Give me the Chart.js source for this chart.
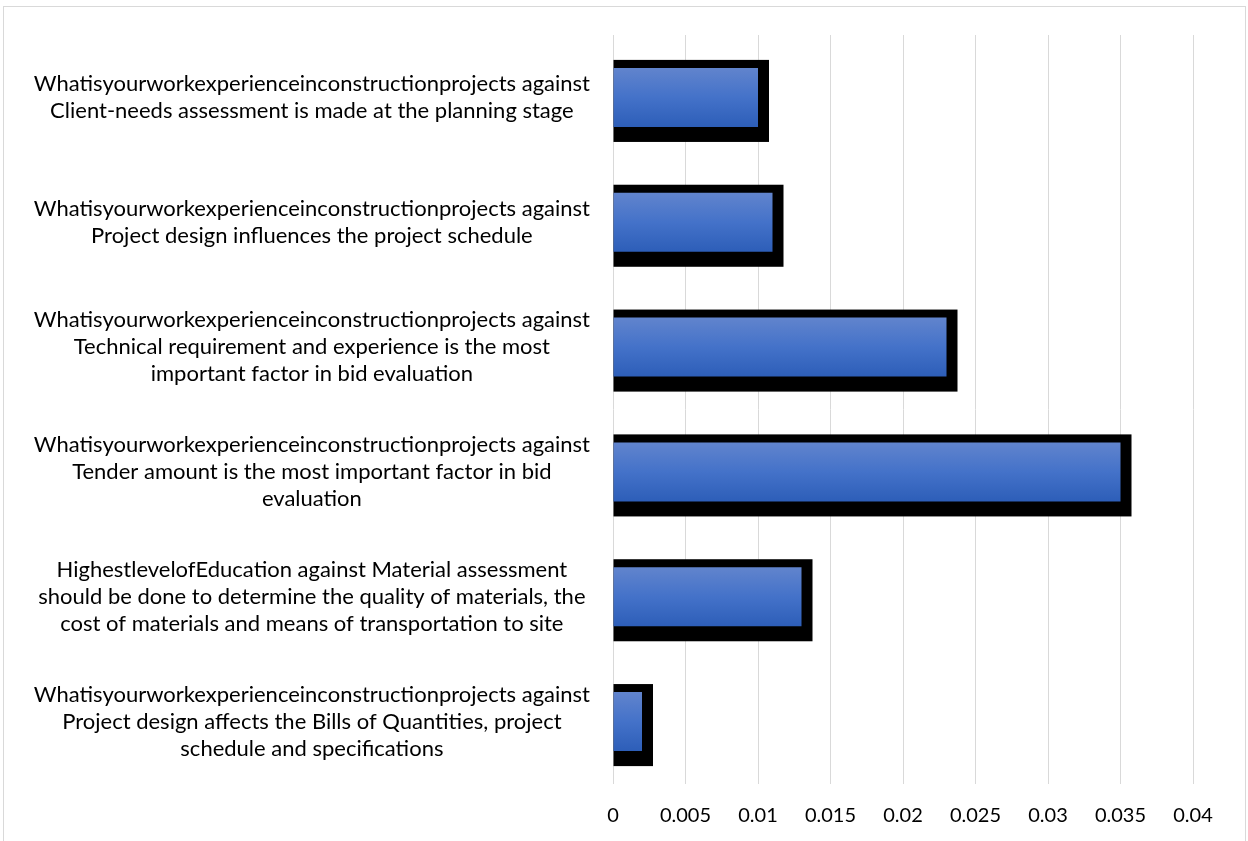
<!DOCTYPE html>
<html>
<head>
<meta charset="utf-8">
<script src="https://cdn.jsdelivr.net/npm/chart.js@4.4.1/dist/chart.umd.min.js"></script>
<style>
  html, body { margin: 0; padding: 0; background: #fff; overflow: hidden; }
  #frame {
    position: absolute; left: 3px; top: 6px;
    width: 1241px; height: 840px;
    border: 1px solid #d9d9d9;
  }
  #chartBox { position: relative; width: 1241px; height: 834px; }
</style>
</head>
<body>
<div id="frame">
  <div id="chartBox"><canvas id="barChart"></canvas></div>
</div>
<script>
// Category labels (one array per wrapped label)
const categories = [
  ["Whatisyourworkexperienceinconstructionprojects against", "Client-needs assessment is made at the planning stage"],
  ["Whatisyourworkexperienceinconstructionprojects against", "Project design influences the project schedule"],
  ["Whatisyourworkexperienceinconstructionprojects against", "Technical requirement and experience is the most", "important factor in bid evaluation"],
  ["Whatisyourworkexperienceinconstructionprojects against", "Tender amount is the most important factor in bid", "evaluation"],
  ["HighestlevelofEducation against Material assessment", "should be done to determine the quality of materials, the", "cost of materials and means of transportation to site"],
  ["Whatisyourworkexperienceinconstructionprojects against", "Project design affects the Bills of Quantities, project", "schedule and specifications"]
];

// Bar values
const values = [0.010, 0.011, 0.023, 0.035, 0.013, 0.002];

// X axis range
const xMin = 0;
const xMax = 0.04;
const xStep = 0.005;

const barPct = 0.473;

// Draws the black offset shadow behind every bar
const barShadow = {
  id: 'barShadow',
  beforeDatasetsDraw(chart) {
    const ctx = chart.ctx;
    const meta = chart.getDatasetMeta(0);
    ctx.save();
    ctx.fillStyle = '#000000';
    meta.data.forEach(function (bar) {
      const p = bar.getProps(['x', 'y', 'base', 'height'], true);
      const top = p.y - p.height / 2 - 8;
      const bottom = p.y + p.height / 2 + 15;
      ctx.fillRect(p.base, top, (p.x + 11) - p.base, bottom - top);
    });
    ctx.restore();
  }
};

function barGradient(c) {
  const chart = c.chart;
  const yScale = chart.scales.y;
  if (!chart.chartArea || !yScale || yScale.height === undefined || c.dataIndex === undefined) {
    return '#4472c4';
  }
  const center = yScale.getPixelForValue(c.dataIndex);
  const half = (yScale.height / categories.length) * barPct / 2;
  const g = chart.ctx.createLinearGradient(0, center - half, 0, center + half);
  g.addColorStop(0, '#6184cd');
  g.addColorStop(0.5, '#4472c9');
  g.addColorStop(1, '#2d5eb8');
  return g;
}

const ctx = document.getElementById('barChart').getContext('2d');
const barChart = new Chart(ctx, {
  type: 'bar',
  data: {
    labels: categories,
    datasets: [{
      data: values,
      backgroundColor: barGradient,
      borderWidth: 0,
      barPercentage: barPct,
      categoryPercentage: 1
    }]
  },
  plugins: [barShadow],
  options: {
    indexAxis: 'y',
    responsive: true,
    maintainAspectRatio: false,
    animation: false,
    layout: { padding: { left: 0, right: 52, top: 28, bottom: 13 } },
    plugins: {
      legend: { display: false },
      tooltip: { enabled: false }
    },
    scales: {
      x: {
        min: xMin,
        max: xMax,
        afterFit(scale) { scale.height = 44; },
        ticks: {
          stepSize: xStep,
          color: '#000000',
          padding: 20,
          font: { family: 'Lato', size: 20 },
          callback: (v) => String(Number(v.toFixed(3)))
        },
        grid: { color: '#d9d9d9', lineWidth: 1, drawTicks: false },
        border: { display: false }
      },
      y: {
        afterFit(scale) {
          scale.width = 609;
          scale.paddingTop = 0;
          scale.paddingBottom = 0;
        },
        ticks: {
          crossAlign: 'center',
          color: '#000000',
          padding: 23,
          font: { family: 'Lato', size: 22, lineHeight: 1.23 }
        },
        grid: { display: false, drawTicks: false },
        border: { display: false }
      }
    }
  }
});
</script>
</body>
</html>
